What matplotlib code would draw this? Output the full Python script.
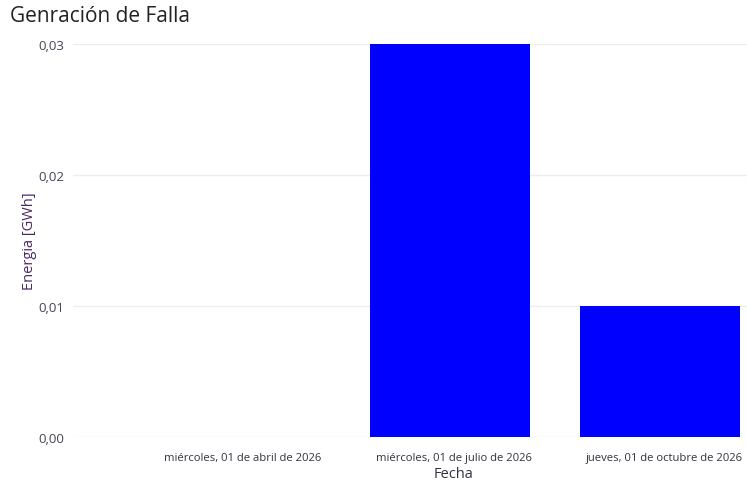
import matplotlib
matplotlib.use("Agg")
import matplotlib.pyplot as plt
from matplotlib.transforms import ScaledTranslation

categories = ["miércoles, 01 de abril de 2026",
              "miércoles, 01 de julio de 2026",
              "jueves, 01 de octubre de 2026"]
energia = [0.0, 0.03, 0.01]
yticks = [0.0, 0.01, 0.02, 0.03]
ytick_labels = ["0,00", "0,01", "0,02", "0,03"]

plt.rcParams['font.family'] = ['Open Sans', 'DejaVu Sans']

W, H = 747, 485
fig = plt.figure(figsize=(W / 100, H / 100), dpi=100)
left, right, top, bottom = 73, 747, 45, 438
ax = fig.add_axes([left / W, 1 - bottom / H, (right - left) / W, (bottom - top) / H])

x = list(range(len(categories)))
ax.bar(x, energia, width=0.76, color="#0000FF", zorder=3)

ax.set_xlim(-0.789, 2.413)
ax.set_ylim(0, 0.03)
ax.set_yticks(yticks)
ax.set_yticklabels(ytick_labels, fontsize=9.5, color="#444455")
ax.set_xticks(x)
ax.set_xticklabels(categories, fontsize=8.1, color="#333340")
ax.tick_params(axis="both", length=0, pad=6)
ax.tick_params(axis="x", pad=11)

# nudge category labels slightly to the right
shift = ScaledTranslation(4 / 100, 0, fig.dpi_scale_trans)
for lbl in ax.get_xticklabels():
    lbl.set_transform(lbl.get_transform() + shift)

ax.grid(axis="y", color="#eeeeee", linewidth=1, zorder=0)
for s in ax.spines.values():
    s.set_visible(False)

ax.set_ylabel("Energia [GWh]", fontsize=10.5, color="#4a2a60", labelpad=1)

fig.text(454 / W, 1 - 475 / H, "Fecha", fontsize=10.5, color="#333344",
         va="center", ha="center")
fig.text(10 / W, 1 - 17 / H, "Genración de Falla", fontsize=15, color="#222222",
         va="center", ha="left")

fig.savefig("out.png", dpi=100)
